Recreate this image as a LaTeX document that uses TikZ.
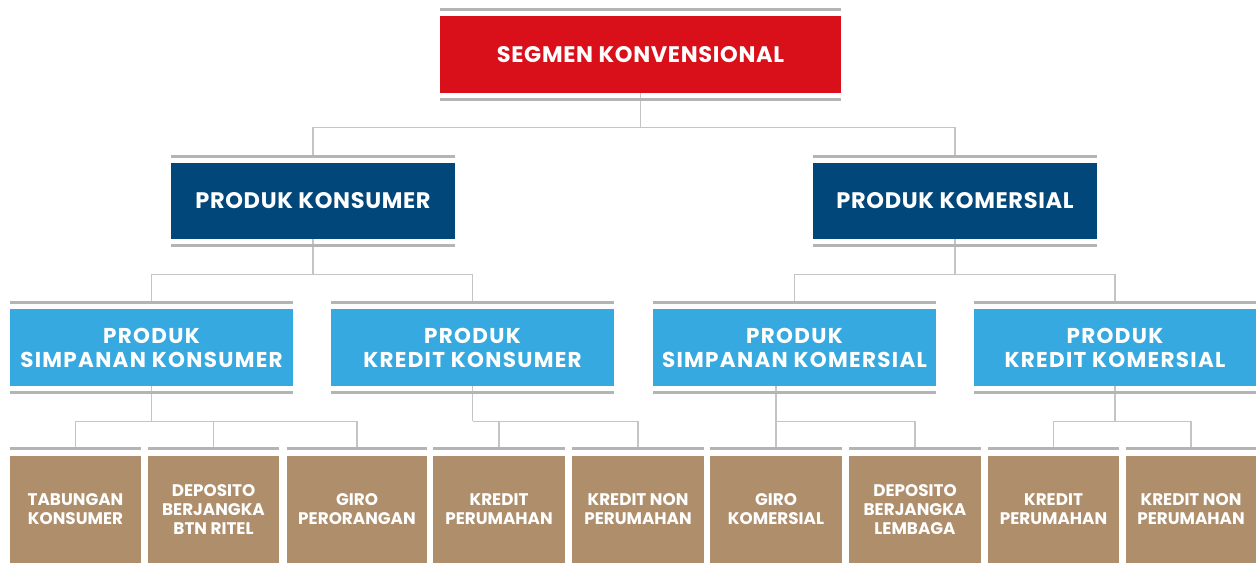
\documentclass[tikz,border=0pt]{standalone}
\usepackage{fontspec}
\setmainfont{Poppins}
\newfontfamily\fontA[LetterSpace=3]{Poppins}
\newfontfamily\fontC[LetterSpace=6]{Poppins}
\definecolor{segred}{HTML}{D90F1A}
\definecolor{darkb}{HTML}{02477A}
\definecolor{lightb}{HTML}{36A9E0}
\definecolor{tanb}{HTML}{AE8E6B}
\definecolor{barg}{HTML}{B4B4B4}
\definecolor{lineg}{HTML}{C4C4C4}
\begin{document}
\begin{tikzpicture}[x=1pt,y=-1pt,
  box/.style={inner sep=0pt, align=center, text=white},
  lvone/.style={box, fill=segred, minimum width=401pt, minimum height=77pt, font=\fontA\bfseries\fontsize{22.5}{26}\selectfont},
  lvtwo/.style={box, fill=darkb, minimum width=284pt, minimum height=76pt, font=\fontA\bfseries\fontsize{22.5}{26}\selectfont},
  lvthree/.style={box, fill=lightb, minimum height=77pt, font=\fontC\bfseries\fontsize{21.5}{24}\selectfont},
  lvfour/.style={box, fill=tanb, minimum height=107pt, font=\bfseries\fontsize{16.8}{19}\selectfont},
  bar/.style={draw=barg, line width=3pt},
  conn/.style={draw=lineg, line width=1.4pt}
]
\useasboundingbox[fill=white] (0,0) rectangle (1256,566);

% level 1
\node[lvone] (seg) at (640.5,54.5) {SEGMEN KONVENSIONAL};
% level 2
\node[lvtwo] (pk) at (313,201) {PRODUK KONSUMER};
\node[lvtwo] (pm) at (955,201) {PRODUK KOMERSIAL};
% level 3
\node[lvthree, minimum width=283pt] (a) at (151.5,347.5) {PRODUK\\SIMPANAN KONSUMER};
\node[lvthree, minimum width=283pt] (b) at (472.5,347.5) {PRODUK\\KREDIT KONSUMER};
\node[lvthree, minimum width=283pt] (c) at (794.5,347.5) {PRODUK\\SIMPANAN KOMERSIAL};
\node[lvthree, minimum width=282pt] (d) at (1115,347.5) {PRODUK\\KREDIT KOMERSIAL};
% level 4
\node[lvfour, minimum width=131pt] (t1) at (75.5,509.5) {TABUNGAN\\KONSUMER};
\node[lvfour, minimum width=131pt] (t2) at (213.5,509.5) {DEPOSITO\\BERJANGKA\\BTN RITEL};
\node[lvfour, minimum width=140pt] (t3) at (357,509.5) {GIRO\\PERORANGAN};
\node[lvfour, minimum width=132pt] (t4) at (499,509.5) {KREDIT\\PERUMAHAN};
\node[lvfour, minimum width=132pt] (t5) at (638,509.5) {KREDIT NON\\PERUMAHAN};
\node[lvfour, minimum width=132pt] (t6) at (776,509.5) {GIRO\\KOMERSIAL};
\node[lvfour, minimum width=132pt] (t7) at (915,509.5) {DEPOSITO\\BERJANGKA\\LEMBAGA};
\node[lvfour, minimum width=131pt] (t8) at (1053.5,509.5) {KREDIT\\PERUMAHAN};
\node[lvfour, minimum width=130pt] (t9) at (1191,509.5) {KREDIT NON\\PERUMAHAN};

% connectors
\draw[conn] (seg.south) -- ++(0,34) coordinate (j0);
\draw[conn] ([yshift=6.5pt]pk.north) |- (j0) -| ([yshift=6.5pt]pm.north);

\draw[conn] (pk.south) -- ++(0,35) coordinate (j1);
\draw[conn] ([yshift=6.5pt]a.north) |- (j1) -| ([yshift=6.5pt]b.north);
\draw[conn] (pm.south) -- ++(0,35) coordinate (j2);
\draw[conn] ([yshift=6.5pt]c.north) |- (j2) -| ([yshift=6.5pt]d.north);

\draw[conn] (a.south) -- ++(0,35) coordinate (j3);
\draw[conn] ([yshift=7pt]t1.north) |- (j3) -| ([yshift=7pt]t3.north);
\draw[conn] (j3 -| t2.north) -- ([yshift=7pt]t2.north);

\draw[conn] (b.south) -- ++(0,35) coordinate (j4);
\draw[conn] (j4) -| ([yshift=7pt]t5.north);
\draw[conn] (j4 -| t4.north) -- ([yshift=7pt]t4.north);

\draw[conn] (c.south -| t6.north) -- ([yshift=7pt]t6.north);
\coordinate (j5) at ([yshift=-35pt]c.south -| t6.north);
\draw[conn] (j5) -| ([yshift=7pt]t7.north);

\draw[conn] (d.south) -- ++(0,35) coordinate (j6);
\draw[conn] ([yshift=7pt]t8.north) |- (j6) -| ([yshift=7pt]t9.north);

% bars
\foreach \n in {seg,pk,pm,a,b,c,d}{
  \draw[bar] ([yshift=6.5pt]\n.north west) -- ([yshift=6.5pt]\n.north east);
  \draw[bar] ([yshift=-6pt]\n.south west) -- ([yshift=-6pt]\n.south east);
}
\foreach \n in {t1,t2,t3,t4,t5,t6,t7,t8,t9}{
  \draw[bar] ([yshift=7pt]\n.north west) -- ([yshift=7pt]\n.north east);
}
\end{tikzpicture}
\end{document}
